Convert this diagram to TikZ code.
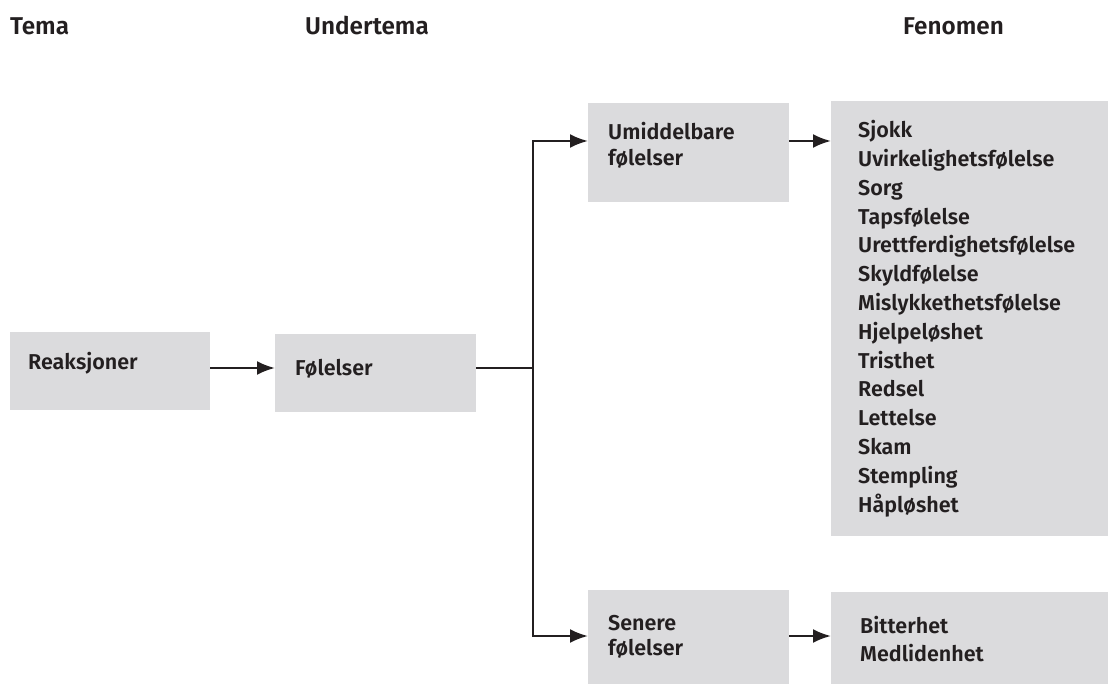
\documentclass[tikz,border=0pt]{standalone}
\usepackage{fontspec}
\setmainfont{Fira Sans}[BoldFont={Fira Sans SemiBold}]
\usetikzlibrary{arrows.meta}
\definecolor{boxgray}{HTML}{DBDBDD}
\definecolor{ink}{HTML}{231F20}

\begin{document}
\begin{tikzpicture}[x=1pt,y=-1pt,
  box/.style={fill=boxgray, draw=none, inner sep=0pt, anchor=north west},
  lbl/.style={anchor=base west, inner sep=0pt, text=ink,
    font=\bfseries\fontsize{21.5}{25.5}\selectfont},
  listtext/.style={lbl, font=\bfseries\fontsize{21.5}{28.8}\selectfont},
  head/.style={anchor=base west, inner sep=0pt, text=ink,
    font=\bfseries\fontsize{24.3}{28}\selectfont},
  link/.style={draw=ink, line width=2.4pt},
  arr/.style={link, -{Latex[length=18pt,width=14pt]}}]

\useasboundingbox (0,0) rectangle (1108,684);

% column headings
\node[head] (hTema) at (10,35) {Tema};
\node[head] (hUnder) at (305,35) {Undertema};
\node[head] (hFen) at (903,35) {Fenomen};

% boxes
\node[box, minimum width=200pt, minimum height=78pt] (reak) at (10,332) {};
\node[box, minimum width=201pt, minimum height=78pt] (fol) at (275,334) {};
\node[box, minimum width=201pt, minimum height=99pt] (umid) at (588,103) {};
\node[box, minimum width=201pt, minimum height=94pt] (sen) at (588,590) {};
\node[box, minimum width=277pt, minimum height=435pt] (fen) at (831,101) {};
\node[box, minimum width=277pt, minimum height=92pt] (bit) at (831,592) {};

% box labels
\node[lbl] (tReak) at (28,370) {Reaksjoner};
\node[lbl] (tFol) at (295,375) {Følelser};
\node[lbl] (tUmid) at (608,140) {\begin{tabular}[t]{@{}l@{}}Umiddelbare\\følelser\end{tabular}};
\node[lbl] (tSen) at (608,630) {\begin{tabular}[t]{@{}l@{}}Senere\\følelser\end{tabular}};
\node[listtext] (tFen) at (858,137.7) {\begin{tabular}[t]{@{}l@{}}
  Sjokk\\Uvirkelighetsfølelse\\Sorg\\Tapsfølelse\\Urettferdighetsfølelse\\
  Skyldfølelse\\Mislykkethetsfølelse\\Hjelpeløshet\\Tristhet\\Redsel\\
  Lettelse\\Skam\\Stempling\\Håpløshet\end{tabular}};
\node[listtext] (tBit) at (860,633) {\begin{tabular}[t]{@{}l@{}}Bitterhet\\Medlidenhet\end{tabular}};

% branching connectors
\coordinate (j) at (533,368);
\coordinate (ju) at (533,141);
\coordinate (jd) at (533,636);

\draw[arr] (j -| reak.east) -- (j -| fol.west);
\draw[link] (j -| fol.east) -- (j);
\draw[arr, line join=miter] (j) -- (ju) -- (ju -| umid.west);
\draw[arr, line join=miter] (j) -- (jd) -- (jd -| sen.west);
\draw[arr] (ju -| umid.east) -- (ju -| fen.west);
\draw[arr] (jd -| sen.east) -- (jd -| bit.west);
\end{tikzpicture}
\end{document}
